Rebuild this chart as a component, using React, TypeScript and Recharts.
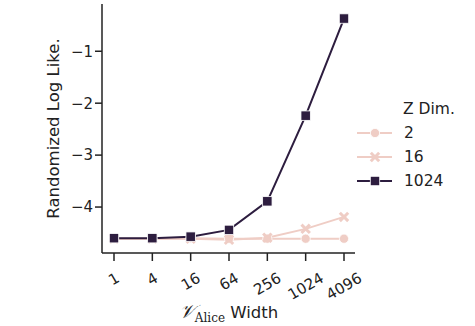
import { Legend, Line, LineChart, XAxis, YAxis } from "recharts";

const widths = ["1", "4", "16", "64", "256", "1024", "4096"];
const zDim2 = [-4.61, -4.61, -4.6, -4.61, -4.61, -4.61, -4.61];
const zDim16 = [-4.61, -4.61, -4.61, -4.63, -4.59, -4.42, -4.19];
const zDim1024 = [-4.6, -4.6, -4.57, -4.44, -3.89, -2.24, -0.37];
const yTicks = [-4, -3, -2, -1];

const data = widths.map((w, i) => ({ width: w, z2: zDim2[i], z16: zDim16[i], z1024: zDim1024[i] }));

const PINK = "#efcdc5";
const DARK = "#2d1d3f";
const FONT = "DejaVu Sans";
const seriesOrder = ["z2", "z16", "z1024"];

function Marker({ kind, cx, cy, color }: { kind: string; cx: number; cy: number; color: string }) {
  if (kind === "circle") return <circle cx={cx} cy={cy} r={4.6} fill={color} stroke="#fff" strokeWidth={0.8} />;
  if (kind === "x") {
    const s = 4.2;
    return (
      <g stroke={color} strokeWidth={3} strokeLinecap="butt">
        <line x1={cx - s} y1={cy - s} x2={cx + s} y2={cy + s} />
        <line x1={cx - s} y1={cy + s} x2={cx + s} y2={cy - s} />
      </g>
    );
  }
  return <rect x={cx - 4.7} y={cy - 4.7} width={9.4} height={9.4} fill={color} stroke="#fff" strokeWidth={0.8} />;
}

const dotFor = (kind: string, color: string) => (p: any) => (
  <Marker key={`${kind}-${p.index}`} kind={kind} cx={p.cx} cy={p.cy} color={color} />
);

function XTick({ x, y, payload }: any) {
  const label = String(payload.value);
  const w = label.length * 0.636 * 15;
  const yc = y + 9 + (w * 0.5 + 11 * 0.866) / 2;
  return (
    <text
      transform={`translate(${x},${yc}) rotate(-30)`}
      textAnchor="middle"
      dominantBaseline="central"
      fontSize={15}
      fontFamily={FONT}
      fill="#222"
    >
      {label}
    </text>
  );
}

function XLabel({ viewBox }: any) {
  const cx = viewBox.x + viewBox.width / 2;
  return (
    <text x={cx} y={318} textAnchor="middle" fontSize={16.5} fontFamily={FONT} fill="#222">
      <tspan fontFamily="Liberation Serif" fontStyle="italic" fontSize={19}>𝒱</tspan>
      <tspan fontFamily="DejaVu Serif" fontSize={12} dy={4}>Alice</tspan>
      <tspan dy={-4}> Width</tspan>
    </text>
  );
}

function YLabel({ viewBox }: any) {
  const cy = viewBox.y + viewBox.height / 2;
  return (
    <text
      transform={`translate(53,${cy}) rotate(-90)`}
      textAnchor="middle"
      dominantBaseline="central"
      fontSize={16.5}
      fontFamily={FONT}
      fill="#222"
    >
      Randomized Log Like.
    </text>
  );
}

const kinds: Record<string, string> = { z2: "circle", z16: "x", z1024: "square" };

function LegendBox({ payload }: any) {
  const items = [...(payload || [])].sort(
    (a: any, b: any) => seriesOrder.indexOf(a.dataKey) - seriesOrder.indexOf(b.dataKey)
  );
  return (
    <svg width={115} height={100} style={{ overflow: "visible", display: "block" }}>
      <text x={48} y={14} dominantBaseline="central" fontSize={15.5} fontFamily={FONT} fill="#222">
        Z Dim.
      </text>
      {items.map((e: any, i: number) => {
        const y = 38 + i * 24;
        return (
          <g key={e.dataKey}>
            <line x1={2} x2={37} y1={y} y2={y} stroke={e.color} strokeWidth={2} />
            <Marker kind={kinds[e.dataKey]} cx={20} cy={y} color={e.color} />
            <text x={49} y={y} dominantBaseline="central" fontSize={15.5} fontFamily={FONT} fill="#222">
              {e.value}
            </text>
          </g>
        );
      })}
    </svg>
  );
}

export default function App() {
  return (
    <div style={{ position: "absolute", left: 0, top: 0 }}>
      <LineChart width={475} height={326} data={data} margin={{ top: 4, right: 120, left: 0, bottom: 0 }}>
        <XAxis
          dataKey="width"
          height={73}
          padding={{ left: 12, right: 11 }}
          tick={<XTick />}
          tickSize={8}
          tickLine={{ stroke: "#222", strokeWidth: 1.5 }}
          axisLine={{ stroke: "#222", strokeWidth: 1.5 }}
          interval={0}
          label={<XLabel />}
        />
        <YAxis
          type="number"
          width={102}
          domain={[-4.885, -0.09]}
          ticks={yTicks}
          allowDataOverflow
          tickFormatter={(v: number) => `−${Math.abs(v)}`}
          tick={{ fontSize: 15, fontFamily: FONT, fill: "#222" }}
          tickSize={7}
          tickMargin={2}
          tickLine={{ stroke: "#222", strokeWidth: 1.5 }}
          axisLine={{ stroke: "#222", strokeWidth: 1.5 }}
          label={<YLabel />}
        />
        <Legend
          layout="horizontal"
          align="center"
          verticalAlign="middle"
          content={<LegendBox />}
          wrapperStyle={{ position: "absolute", left: 355, top: 95, width: 115, height: 100 }}
        />
        <Line dataKey="z2" name="2" stroke={PINK} strokeWidth={2} dot={dotFor("circle", PINK)} isAnimationActive={false} />
        <Line dataKey="z16" name="16" stroke={PINK} strokeWidth={2} dot={dotFor("x", PINK)} isAnimationActive={false} />
        <Line dataKey="z1024" name="1024" stroke={DARK} strokeWidth={2} dot={dotFor("square", DARK)} isAnimationActive={false} />
      </LineChart>
    </div>
  );
}
